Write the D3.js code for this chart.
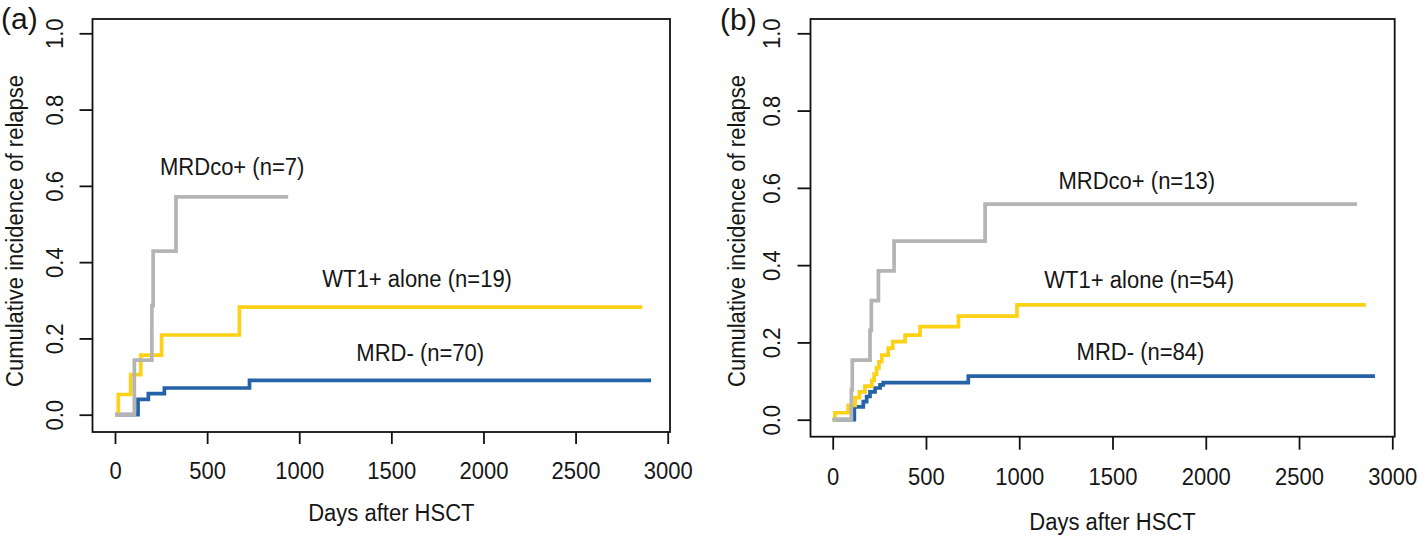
<!DOCTYPE html>
<html><head><meta charset="utf-8">
<script src="https://cdn.jsdelivr.net/npm/d3@7"></script>
<style>body{margin:0;background:#fff}</style>
</head><body><svg id="c" width="1418" height="536"></svg>
<script>
// ---------- data ----------
const xTickValues = [0, 500, 1000, 1500, 2000, 2500, 3000];
const yTickValues = [0, 0.2, 0.4, 0.6, 0.8, 1.0];
const yTickLabels = ["0.0", "0.2", "0.4", "0.6", "0.8", "1.0"];
const xTitle = "Days after HSCT";
const yTitle = "Cumulative incidence of relapse";
const panelTags = ["(a)", "(b)"];
const seriesKeys = ["MRDneg", "WT1", "MRDco"];

// panel (a)
const aMRDnegDays = [0, 125, 181, 268, 730, 2910];
const aMRDnegCIR  = [0, 0.040, 0.055, 0.070, 0.090, 0.090];
const aWT1Days    = [0, 18, 85, 140, 253, 675, 2862];
const aWT1CIR     = [0, 0.053, 0.105, 0.156, 0.209, 0.282, 0.282];
const aMRDcoDays  = [0, 105, 200, 207, 331, 940];
const aMRDcoCIR   = [0, 0.143, 0.286, 0.429, 0.571, 0.571];
const aLabels     = ["MRD- (n=70)", "WT1+ alone (n=19)", "MRDco+ (n=7)"];
const aLabelDays  = [1657, 1640, 636];
const aLabelCIR   = [0.162, 0.356, 0.649];

// panel (b)
const bMRDnegDays = [0, 116, 164, 182, 200, 227, 254, 271, 727, 2907];
const bMRDnegCIR  = [0, 0.033, 0.047, 0.060, 0.072, 0.082, 0.090, 0.096, 0.113, 0.113];
const bWT1Days    = [0, 12, 83, 120, 143, 173, 210, 222, 235, 248, 263, 298, 322, 388, 468, 674, 988, 2859];
const bWT1CIR     = [0, 0.018, 0.037, 0.057, 0.072, 0.087, 0.102, 0.118, 0.134, 0.150, 0.167, 0.185, 0.202, 0.219, 0.241, 0.268, 0.297, 0.297];
const bMRDcoDays  = [0, 100, 105, 200, 207, 245, 329, 817, 2811];
const bMRDcoCIR   = [0, 0.077, 0.154, 0.231, 0.308, 0.385, 0.462, 0.558, 0.558];
const bLabels     = ["MRD- (n=84)", "WT1+ alone (n=54)", "MRDco+ (n=13)"];
const bLabelDays  = [1650, 1643, 1630];
const bLabelCIR   = [0.175, 0.362, 0.619];

// ---------- styles / layout ----------
const colors = {MRDneg: "#2563a6", WT1: "#fcd116", MRDco: "#b4b4b4"};
const FONT = "'Liberation Sans', Arial, sans-serif";
const TXT = "#161616";
const FS = 23;          // font size
const SQUEEZE = 0.957;  // horizontal glyph compression

const panels = [
  {tag: panelTags[0], tagX: 1, tagY: 29,
   box: {l: 92.5, r: 670, t: 19, b: 432},
   xr: [115, 667.7], yr: [414.7, 33.3],
   xTickLen: 12, xPad: 19, yTickLen: 13, yLabX: 62.5,
   xTitleY: 521, yTitleX: 22.9, yTitleY: 231,
   series: {MRDneg: [aMRDnegDays, aMRDnegCIR], WT1: [aWT1Days, aWT1CIR], MRDco: [aMRDcoDays, aMRDcoCIR]},
   labels: aLabels, labDays: aLabelDays, labCIR: aLabelCIR},
  {tag: panelTags[1], tagX: 720, tagY: 30,
   box: {l: 810.5, r: 1394.7, t: 19, b: 436.7},
   xr: [832.7, 1392.3], yr: [419.7, 33.3],
   xTickLen: 13, xPad: 19, yTickLen: 13, yLabX: 779.5,
   xTitleY: 529.5, yTitleX: 744.6, yTitleY: 231,
   series: {MRDneg: [bMRDnegDays, bMRDnegCIR], WT1: [bWT1Days, bWT1CIR], MRDco: [bMRDcoDays, bMRDcoCIR]},
   labels: bLabels, labDays: bLabelDays, labCIR: bLabelCIR}
];

const svg = d3.select("#c");
svg.append("rect").attr("width", 1418).attr("height", 536).attr("fill", "#fff");

function squeeze(sel) {
  sel.each(function () {
    const w = this.getComputedTextLength();
    if (w > 0) d3.select(this).attr("textLength", w * SQUEEZE).attr("lengthAdjust", "spacingAndGlyphs");
  });
}

panels.forEach(P => {
  const g = svg.append("g");
  const x = d3.scaleLinear().domain([0, 3000]).range(P.xr);
  const y = d3.scaleLinear().domain([0, 1]).range(P.yr);
  const B = P.box;

  // curves
  const line = d3.line().x(d => x(d[0])).y(d => y(d[1])).curve(d3.curveStepAfter);
  seriesKeys.forEach(k => {
    const [days, vals] = P.series[k];
    const pts = days.map((d, i) => [d, vals[i]]);
    g.append("path").datum(pts).attr("d", line)
      .attr("fill", "none").attr("stroke", colors[k])
      .attr("stroke-width", 3.7).attr("stroke-linejoin", "miter").attr("stroke-linecap", "butt");
  });

  // box
  g.append("rect").attr("x", B.l).attr("y", B.t).attr("width", B.r - B.l).attr("height", B.b - B.t)
    .attr("fill", "none").attr("stroke", "#111").attr("stroke-width", 1.8);

  // x axis
  const xa = g.append("g").attr("transform", `translate(0,${B.b})`)
    .call(d3.axisBottom(x).tickValues(xTickValues).tickSize(P.xTickLen).tickPadding(P.xPad).tickFormat(d3.format("d")));
  xa.select(".domain").remove();
  xa.selectAll("line").attr("stroke", "#111").attr("stroke-width", 1.8);
  xa.selectAll("text").attr("font-family", FONT).attr("font-size", FS).attr("fill", TXT).call(squeeze);

  // y axis
  const ya = g.append("g").attr("transform", `translate(${B.l},0)`)
    .call(d3.axisLeft(y).tickValues(yTickValues).tickSize(P.yTickLen).tickFormat((d, i) => yTickLabels[i]));
  ya.select(".domain").remove();
  ya.selectAll("line").attr("stroke", "#111").attr("stroke-width", 1.8);
  ya.selectAll("text").attr("font-family", FONT).attr("font-size", FS).attr("fill", TXT)
    .attr("x", null).attr("dy", null).attr("text-anchor", "middle")
    .attr("transform", `translate(${P.yLabX - B.l},0) rotate(-90)`).call(squeeze);

  // titles
  g.append("text").attr("x", (P.xr[0] + P.xr[1]) / 2).attr("y", P.xTitleY)
    .attr("text-anchor", "middle").attr("font-family", FONT).attr("font-size", FS).attr("fill", TXT)
    .text(xTitle).call(squeeze);
  g.append("text").attr("transform", `translate(${P.yTitleX},${P.yTitleY}) rotate(-90)`)
    .attr("text-anchor", "middle").attr("font-family", FONT).attr("font-size", FS).attr("fill", TXT)
    .text(yTitle).call(squeeze);

  // panel tag
  g.append("text").attr("x", P.tagX).attr("y", P.tagY)
    .attr("font-family", FONT).attr("font-size", 30).attr("fill", TXT).text(P.tag);

  // curve labels
  P.labels.forEach((t, i) => {
    g.append("text").attr("x", x(P.labDays[i])).attr("y", y(P.labCIR[i])).attr("dy", "0.36em")
      .attr("text-anchor", "middle").attr("font-family", FONT).attr("font-size", FS).attr("fill", TXT)
      .text(t).call(squeeze);
  });
});
</script></body></html>
